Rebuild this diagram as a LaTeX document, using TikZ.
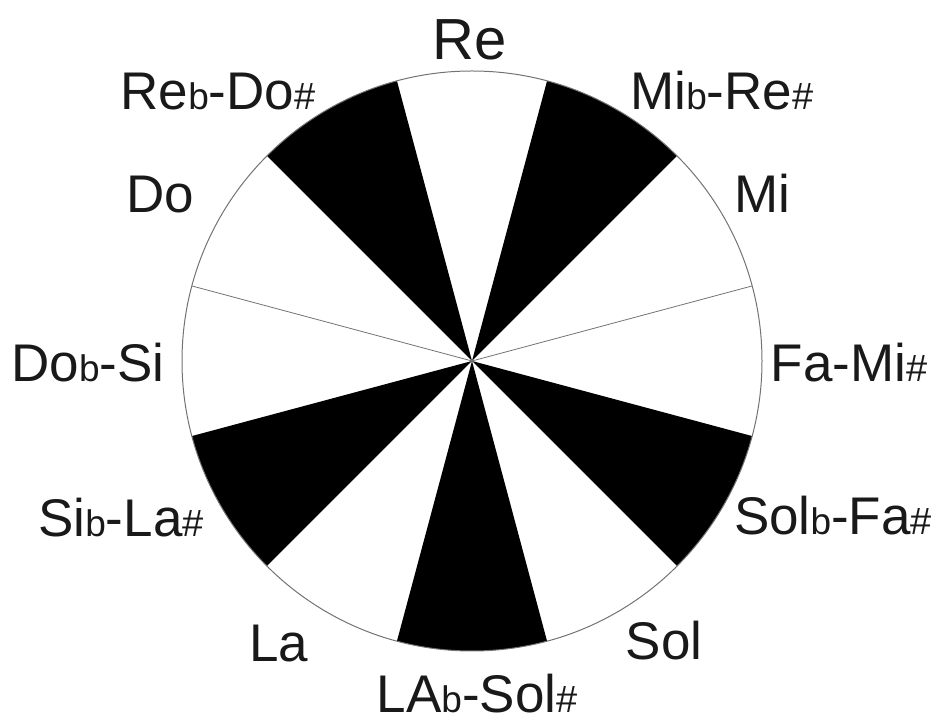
\documentclass[tikz,border=0pt]{standalone}
\usepackage{fontspec}
\setmainfont{Liberation Sans}
\usepackage{tikz}
\usetikzlibrary{positioning, calc}

\newcommand{\flt}{{\fontsize{37}{40}\selectfont b}}
\newcommand{\shp}{{\fontsize{38}{40}\selectfont\#}}

\begin{document}
\begin{tikzpicture}[
    x=1pt, y=1pt,
    note/.style={anchor=base, inner sep=0pt, text=black!90,
                 font=\fontsize{53}{60}\selectfont},
    rim/.style={draw=black!55, line width=1pt},
    blade/.style={fill=black},
]
\useasboundingbox (0,0) rectangle (938,723);
\coordinate (c) at (472,362);

% black sectors
\foreach \a in {45,105,195,255,315}
  \fill[blade] (c) -- ($(c)+(\a:290)$) arc[start angle=\a, delta angle=30, radius=290] -- cycle;

% thin dividers between neighbouring white sectors
\draw[rim, line width=0.8pt] ($(c)+(15:290)$) -- (c) -- ($(c)+(165:290)$);
\draw[rim] (c) circle[radius=290];

% note names
\node[note, font=\fontsize{58}{60}\selectfont] (re) at (470,663) {Re};
\node[note] (rebdo) at (218,613) {Re\flt-Do\shp};
\node[note] (mibre) at (722,613) {Mi\flt-Re\shp};
\node[note] (do) at (160,510) {Do};
\node[note] (mi) at (762,510) {Mi};
\node[note] (dobsi) at (88,341) {Do\flt-Si};
\node[note] (fami) at (849,341) {Fa-Mi\shp};
\node[note] (sibla) at (121,186) {Si\flt-La\shp};
\node[note] (solbfa) at (833,188) {Sol\flt-Fa\shp};
\node[note] (la) at (279,61) {La};
\node[note] (sol) at (664,63) {Sol};
\node[note] (labsol) at (477,10) {LA\flt-Sol\shp};

\end{tikzpicture}
\end{document}
